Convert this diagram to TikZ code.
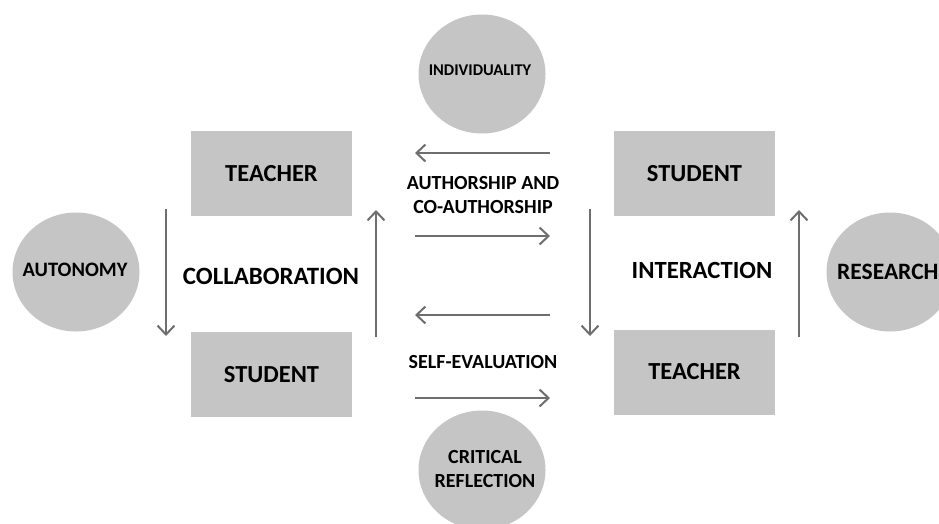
\documentclass[tikz,border=0pt]{standalone}
\usepackage{fontspec}
\setmainfont{Carlito}
\usetikzlibrary{arrows.meta,shapes.geometric}
\definecolor{fillgray}{RGB}{197,197,197}
\definecolor{arrgray}{RGB}{110,110,110}
\tikzset{
  box/.style={rectangle, fill=fillgray, minimum width=161pt, minimum height=85pt, inner sep=0pt, font=\bfseries\fontsize{24.5}{25}\selectfont},
  blob/.style={ellipse, fill=fillgray, minimum width=127pt, minimum height=119pt, inner sep=0pt},
  lbl/.style={inner sep=0pt, align=center, font=\bfseries\fontsize{20}{24}\selectfont},
  arr/.style={draw=arrgray, line width=2pt, -{Straight Barb[length=9pt,width=17pt,line width=2pt]}}
}
\begin{document}
\begin{tikzpicture}[x=1pt,y=-1pt]
\useasboundingbox (0,0) rectangle (939,523);
\clip (0,0) rectangle (939,523);
% circles
\node[blob] (indiv) at (482,74) {};
\node[blob] (auton) at (76,272) {};
\node[blob] (research) at (890,272) {};
\node[blob] (crit) at (482,470) {};
\node[lbl, font=\bfseries\fontsize{16.4}{20}\selectfont] (indivt) at (480,70) {INDIVIDUALITY};
\node[lbl, font=\bfseries\fontsize{20.5}{24}\selectfont] (autont) at (75,270) {AUTONOMY};
\node[lbl, font=\bfseries\fontsize{23.5}{24}\selectfont, anchor=west] (researcht) at (837,272) {RESEARCH};
\node[lbl, font=\bfseries\fontsize{20}{24.5}\selectfont] (critt) at (485,469) {CRITICAL\\REFLECTION};
% boxes
\node[box] (teacherL) at (271.5,173.5) {TEACHER};
\node[box] (studentL) at (271.5,374.5) {STUDENT};
\node[box] (studentR) at (694.5,173.5) {STUDENT};
\node[box] (teacherR) at (694.5,372) {TEACHER};
% labels
\node[lbl, font=\bfseries\fontsize{24.9}{25}\selectfont] (collab) at (271,276) {COLLABORATION};
\node[lbl, font=\bfseries\fontsize{24.7}{25}\selectfont] (inter) at (702,270) {INTERACTION};
\node[lbl] (author) at (483,195) {AUTHORSHIP AND\\CO-AUTHORSHIP};
\node[lbl] (selfev) at (483,362) {SELF-EVALUATION};
% arrow end points
\coordinate (a1s) at (166,209); \coordinate (a1e) at (166,336);
\coordinate (a2s) at (376,337); \coordinate (a2e) at (376,210);
\coordinate (a3s) at (590,209); \coordinate (a3e) at (590,336);
\coordinate (a4s) at (799,337); \coordinate (a4e) at (799,210);
\coordinate (h1s) at (550,153); \coordinate (h1e) at (415,153);
\coordinate (h2s) at (415,236); \coordinate (h2e) at (550,236);
\coordinate (h3s) at (550,315); \coordinate (h3e) at (415,315);
\coordinate (h4s) at (415,398); \coordinate (h4e) at (550,398);
\draw[arr] (a1s) -- (a1e);
\draw[arr] (a2s) -- (a2e);
\draw[arr] (a3s) -- (a3e);
\draw[arr] (a4s) -- (a4e);
\draw[arr] (h1s) -- (h1e);
\draw[arr] (h2s) -- (h2e);
\draw[arr] (h3s) -- (h3e);
\draw[arr] (h4s) -- (h4e);
\end{tikzpicture}
\end{document}
